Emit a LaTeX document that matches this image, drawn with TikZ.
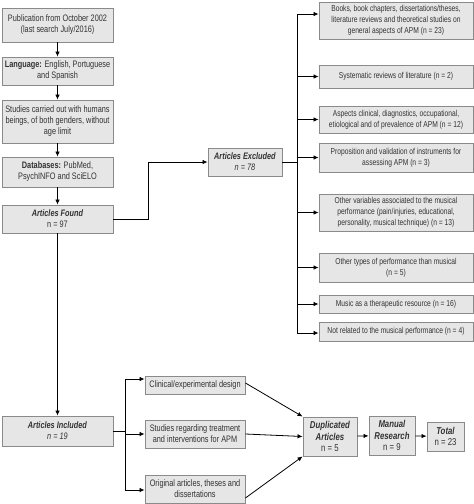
\documentclass[tikz,border=0pt]{standalone}
\usepackage{fontspec}
\setmainfont{Liberation Sans}[FakeStretch=0.78]
\usetikzlibrary{arrows.meta,calc}
\definecolor{boxfill}{HTML}{E6E6E6}
\definecolor{boxline}{HTML}{8A8A8A}
\definecolor{txt}{HTML}{333333}
\begin{document}
\begin{tikzpicture}[x=1pt,y=-1pt,
  box/.style={draw=boxline,fill=boxfill,line width=0.9pt,inner sep=1pt,align=center,
    text=txt,font=\fontsize{9.4}{11}\selectfont,anchor=center},
  rbox/.style={box,minimum width=154pt,font=\fontsize{8.6}{11}\selectfont},
  big/.style={font=\fontsize{10}{11.5}\selectfont},
  arr/.style={-{Latex[length=5pt,width=4.5pt]},line width=0.8pt,black},
  ln/.style={line width=0.8pt,black}]
\useasboundingbox (0,0) rectangle (474,504);
% left column
\node[box,minimum width=111pt,minimum height=34pt] (b1) at (57.5,25) {Publication from October 2002\\(last search July/2016)};
\node[box,minimum width=111pt,minimum height=28pt] (b2) at (57.5,71) {\textbf{Language:} English, Portuguese\\and Spanish};
\node[box,minimum width=111pt,minimum height=43pt] (b3) at (57.5,121.5) {Studies carried out with humans\\beings, of both genders, without\\age limit};
\node[box,minimum width=111pt,minimum height=30pt] (b4) at (57.5,172) {\textbf{Databases:} PubMed,\\PsychINFO and SciELO};
\node[box,minimum width=111pt,minimum height=28pt] (found) at (57.5,219) {\textit{\textbf{Articles Found}}\\n = 97};
\node[box,minimum width=111pt,minimum height=30pt] (inc) at (57.5,431) {\textit{\textbf{Articles Included}}\\\textit{n = 19}};
% excluded
\node[box,minimum width=74pt,minimum height=28pt] (ex) at (245,162) {\textit{\textbf{Articles Excluded}}\\\textit{n = 78}};
% right column
\node[rbox,minimum height=37pt] (r1) at (396,20.5) {Books, book chapters, dissertations/theses,\\literature reviews and theoretical studies on\\general aspects of APM (n = 23)};
\node[rbox,minimum height=23pt] (r2) at (396,76.5) {Systematic reviews of literature (n = 2)};
\node[rbox,minimum height=27pt] (r3) at (396,119.5) {Aspects clinical, diagnostics, occupational,\\etiological and of prevalence of APM (n = 12)};
\node[rbox,minimum height=29pt] (r4) at (396,157.5) {Proposition and validation of instruments for\\assessing APM (n = 3)};
\node[rbox,minimum height=37pt] (r5) at (396,212.5) {Other variables associated to the musical\\performance (pain/injuries, educational,\\personality, musical technique) (n = 13)};
\node[rbox,minimum height=29pt] (r6) at (396,267.5) {Other types of performance than musical\\(n = 5)};
\node[rbox,minimum height=18pt] (r7) at (396,304) {Music as a therapeutic resource (n = 16)};
\node[rbox,minimum height=19pt] (r8) at (396,331.5) {Not related to the musical performance (n = 4)};
% bottom row
\node[box,minimum width=100pt,minimum height=18pt] (cl) at (195,385) {Clinical/experimental design};
\node[box,minimum width=100pt,minimum height=28pt] (st) at (195,434) {Studies regarding treatment\\and interventions for APM};
\node[box,minimum width=100pt,minimum height=28pt] (or) at (195,489) {Original articles, theses and\\dissertations};
\node[box,big,minimum width=54pt,minimum height=39pt] (dup) at (330,436.5) {\textit{\textbf{Duplicated}}\\\textit{\textbf{Articles}}\\n = 5};
\node[box,big,minimum width=46pt,minimum height=39pt] (man) at (392,435.5) {\textit{\textbf{Manual}}\\\textit{\textbf{Research}}\\n = 9};
\node[box,big,minimum width=37pt,minimum height=29pt] (tot) at (445.5,436.5) {\textit{\textbf{Total}}\\n = 23};
% connectors left column
\draw[arr] (b1) -- (b2);
\draw[arr] (b2) -- (b3);
\draw[arr] (b3) -- (b4);
\draw[arr] (b4) -- (found);
\draw[arr] (found) -- (inc);
\draw[arr] (found.east) -- ++(35,0) |- (ex.west);
% right branch
\coordinate (vtop) at (297,14);
\coordinate (vbot) at (297,333);
\draw[ln] (vtop) -- (vbot);
\draw[ln] (ex.east) -- (vtop |- ex.east);
\draw[arr] (vtop) -- (vtop -| r1.west);
\foreach \r in {r2,r3,r4,r5,r6,r7} \draw[arr] (vtop |- \r.west) -- (\r.west);
\draw[arr] (vbot) -- (vbot -| r8.west);
% bottom branch
\coordinate (ltop) at (125,379);
\coordinate (lbot) at (125,490);
\draw[ln] (ltop) -- (lbot);
\draw[ln] (inc.east) -- (ltop |- inc.east);
\draw[arr] (ltop) -- (ltop -| cl.west);
\draw[arr] (ltop |- st.west) -- (st.west);
\draw[arr] (lbot) -- (lbot -| or.west);
\draw[arr] ($(cl.east)+(0,-2)$) -- (dup.north west);
\draw[arr] (st.east) -- (dup.west);
\draw[arr] ($(or.east)+(0,9)$) -- (dup.south west);
\draw[arr] (dup) -- (man);
\draw[arr] (man) -- (tot);
\end{tikzpicture}
\end{document}
